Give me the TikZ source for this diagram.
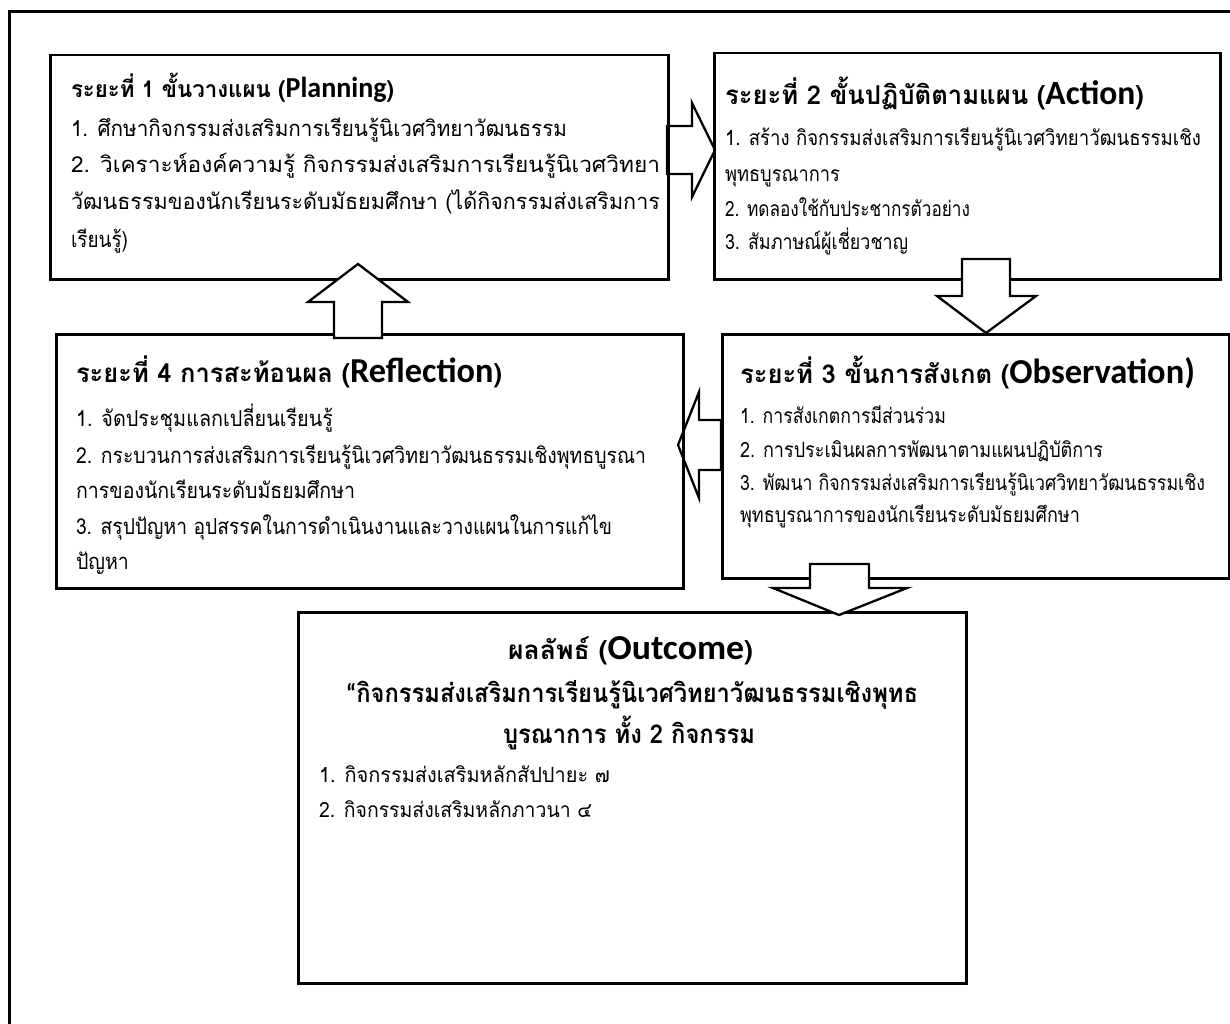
\documentclass[tikz,border=0pt]{standalone}
\usepackage{fontspec}
\usepackage{graphicx}
\newfontfamily\thai[Script=Thai]{Loma}
\newfontfamily\lat{Carlito}
\newcommand{\fitw}[2]{\resizebox{#1pt}{\height}{#2}}
\tikzset{
  box/.style={draw, line width=2.5pt, inner sep=0pt, anchor=north west},
  blockarrow/.style={draw, line width=2.3pt, fill=white, line join=miter},
  txt/.style={anchor=base west, inner sep=0pt, outer sep=0pt},
  body/.style={txt, font=\thai\fontsize{21}{25}\selectfont},
  bodyl/.style={txt, font=\thai\fontsize{22}{26}\selectfont},
  ttl/.style={txt, font=\thai\bfseries\fontsize{26}{30}\selectfont},
}
\newcommand{\Lt}[2]{{\lat\bfseries\fontsize{#1}{#1}\selectfont #2}}
\begin{document}
\begin{tikzpicture}[x=1pt,y=-1pt]
\useasboundingbox (0,0) rectangle (1230,1024);
\clip (0,0) rectangle (1230,1024);
% outer frame
\draw[line width=3pt] (9,1040) -- (9,12) -- (1245,12);
% arrows drawn below boxes
\draw[blockarrow] (667,126) -- (692,126) -- (692,103) -- (715,150) -- (692,197) -- (692,174) -- (667,174) -- cycle;
\draw[blockarrow] (721,420) -- (699,420) -- (699,392) -- (678,445) -- (699,498) -- (699,470) -- (721,470) -- cycle;
% boxes
\node[box, minimum width=618pt, minimum height=224pt] (b1) at (49,54) {};
\node[box, minimum width=506pt, minimum height=226pt] (b2) at (713,52) {};
\node[box, minimum width=507pt, minimum height=244pt] (b3) at (721,333) {};
\node[box, minimum width=627pt, minimum height=254pt] (b4) at (55,333) {};
\node[box, line width=3.4pt, minimum width=668pt, minimum height=371pt] (b5) at (297,611) {};
% arrows drawn above boxes
\draw[blockarrow] (962,259) -- (1010,259) -- (1010,296) -- (1036,296) -- (986,333) -- (937,296) -- (962,296) -- cycle;
\draw[blockarrow] (334,338) -- (334,302) -- (308,302) -- (358,264) -- (408,302) -- (382,302) -- (382,338) -- cycle;
\draw[blockarrow] (810,564) -- (869,564) -- (869,588) -- (907,588) -- (839,615) -- (773,588) -- (810,588) -- cycle;
% box 1 text
\node[ttl, font=\thai\bfseries\fontsize{23}{27}\selectfont] (t1) at (71,98) {\fitw{323}{ระยะที่ 1 ขั้นวางแผน (\Lt{29}{Planning})}};
\node[bodyl] (t1a) at (71,137) {\fitw{496}{1. ศึกษากิจกรรมส่งเสริมการเรียนรู้นิเวศวิทยาวัฒนธรรม}};
\node[bodyl] (t1b) at (71,173) {\fitw{589}{2. วิเคราะห์องค์ความรู้ กิจกรรมส่งเสริมการเรียนรู้นิเวศวิทยา}};
\node[bodyl] (t1c) at (71,210) {\fitw{589}{วัฒนธรรมของนักเรียนระดับมัธยมศึกษา (ได้กิจกรรมส่งเสริมการ}};
\node[bodyl] (t1d) at (71,247) {\fitw{57}{เรียนรู้)}};
% box 2 text
\node[ttl] (t2) at (725,105) {\fitw{419}{ระยะที่ 2 ขั้นปฏิบัติตามแผน (\Lt{34}{Action})}};
\node[body] (t2a) at (725,146) {\fitw{476}{1. สร้าง กิจกรรมส่งเสริมการเรียนรู้นิเวศวิทยาวัฒนธรรมเชิง}};
\node[body] (t2b) at (725,182) {\fitw{115}{พุทธบูรณาการ}};
\node[body] (t2c) at (725,216) {\fitw{245}{2. ทดลองใช้กับประชากรตัวอย่าง}};
\node[body] (t2d) at (725,250) {\fitw{183}{3. สัมภาษณ์ผู้เชี่ยวชาญ}};
% box 3 text
\node[ttl] (t3) at (740,383) {\fitw{455}{ระยะที่ 3 ขั้นการสังเกต (\Lt{35}{Observation)}}};
\node[body] (t3a) at (740,423) {\fitw{206}{1. การสังเกตการมีส่วนร่วม}};
\node[body] (t3b) at (740,457) {\fitw{363}{2. การประเมินผลการพัฒนาตามแผนปฏิบัติการ}};
\node[body] (t3c) at (740,490) {\fitw{465}{3. พัฒนา กิจกรรมส่งเสริมการเรียนรู้นิเวศวิทยาวัฒนธรรมเชิง}};
\node[body] (t3d) at (740,522) {\fitw{340}{พุทธบูรณาการของนักเรียนระดับมัธยมศึกษา}};
% box 4 text
\node[ttl] (t4) at (76,382) {\fitw{426}{ระยะที่ 4 การสะท้อนผล (\Lt{35}{Reflection})}};
\node[bodyl] (t4a) at (76,426) {\fitw{257}{1. จัดประชุมแลกเปลี่ยนเรียนรู้}};
\node[bodyl] (t4b) at (76,463) {\fitw{570}{2. กระบวนการส่งเสริมการเรียนรู้นิเวศวิทยาวัฒนธรรมเชิงพุทธบูรณา}};
\node[bodyl] (t4c) at (76,498) {\fitw{279}{การของนักเรียนระดับมัธยมศึกษา}};
\node[bodyl] (t4d) at (76,534) {\fitw{536}{3. สรุปปัญหา อุปสรรคในการดำเนินงานและวางแผนในการแก้ไข}};
\node[bodyl] (t4e) at (76,569) {\fitw{53}{ปัญหา}};
% outcome text
\node[ttl] (t5) at (508,659) {\fitw{245}{ผลลัพธ์ (\Lt{35}{Outcome})}};
\node[ttl] (t5a) at (346,702) {\fitw{572}{{\lat\bfseries “}กิจกรรมส่งเสริมการเรียนรู้นิเวศวิทยาวัฒนธรรมเชิงพุทธ}};
\node[ttl] (t5b) at (503,743) {\fitw{252}{บูรณาการ ทั้ง 2 กิจกรรม}};
\node[body] (t5c) at (319,782) {\fitw{291}{1. กิจกรรมส่งเสริมหลักสัปปายะ ๗}};
\node[body] (t5d) at (319,817) {\fitw{273}{2. กิจกรรมส่งเสริมหลักภาวนา ๔}};
\end{tikzpicture}
\end{document}
